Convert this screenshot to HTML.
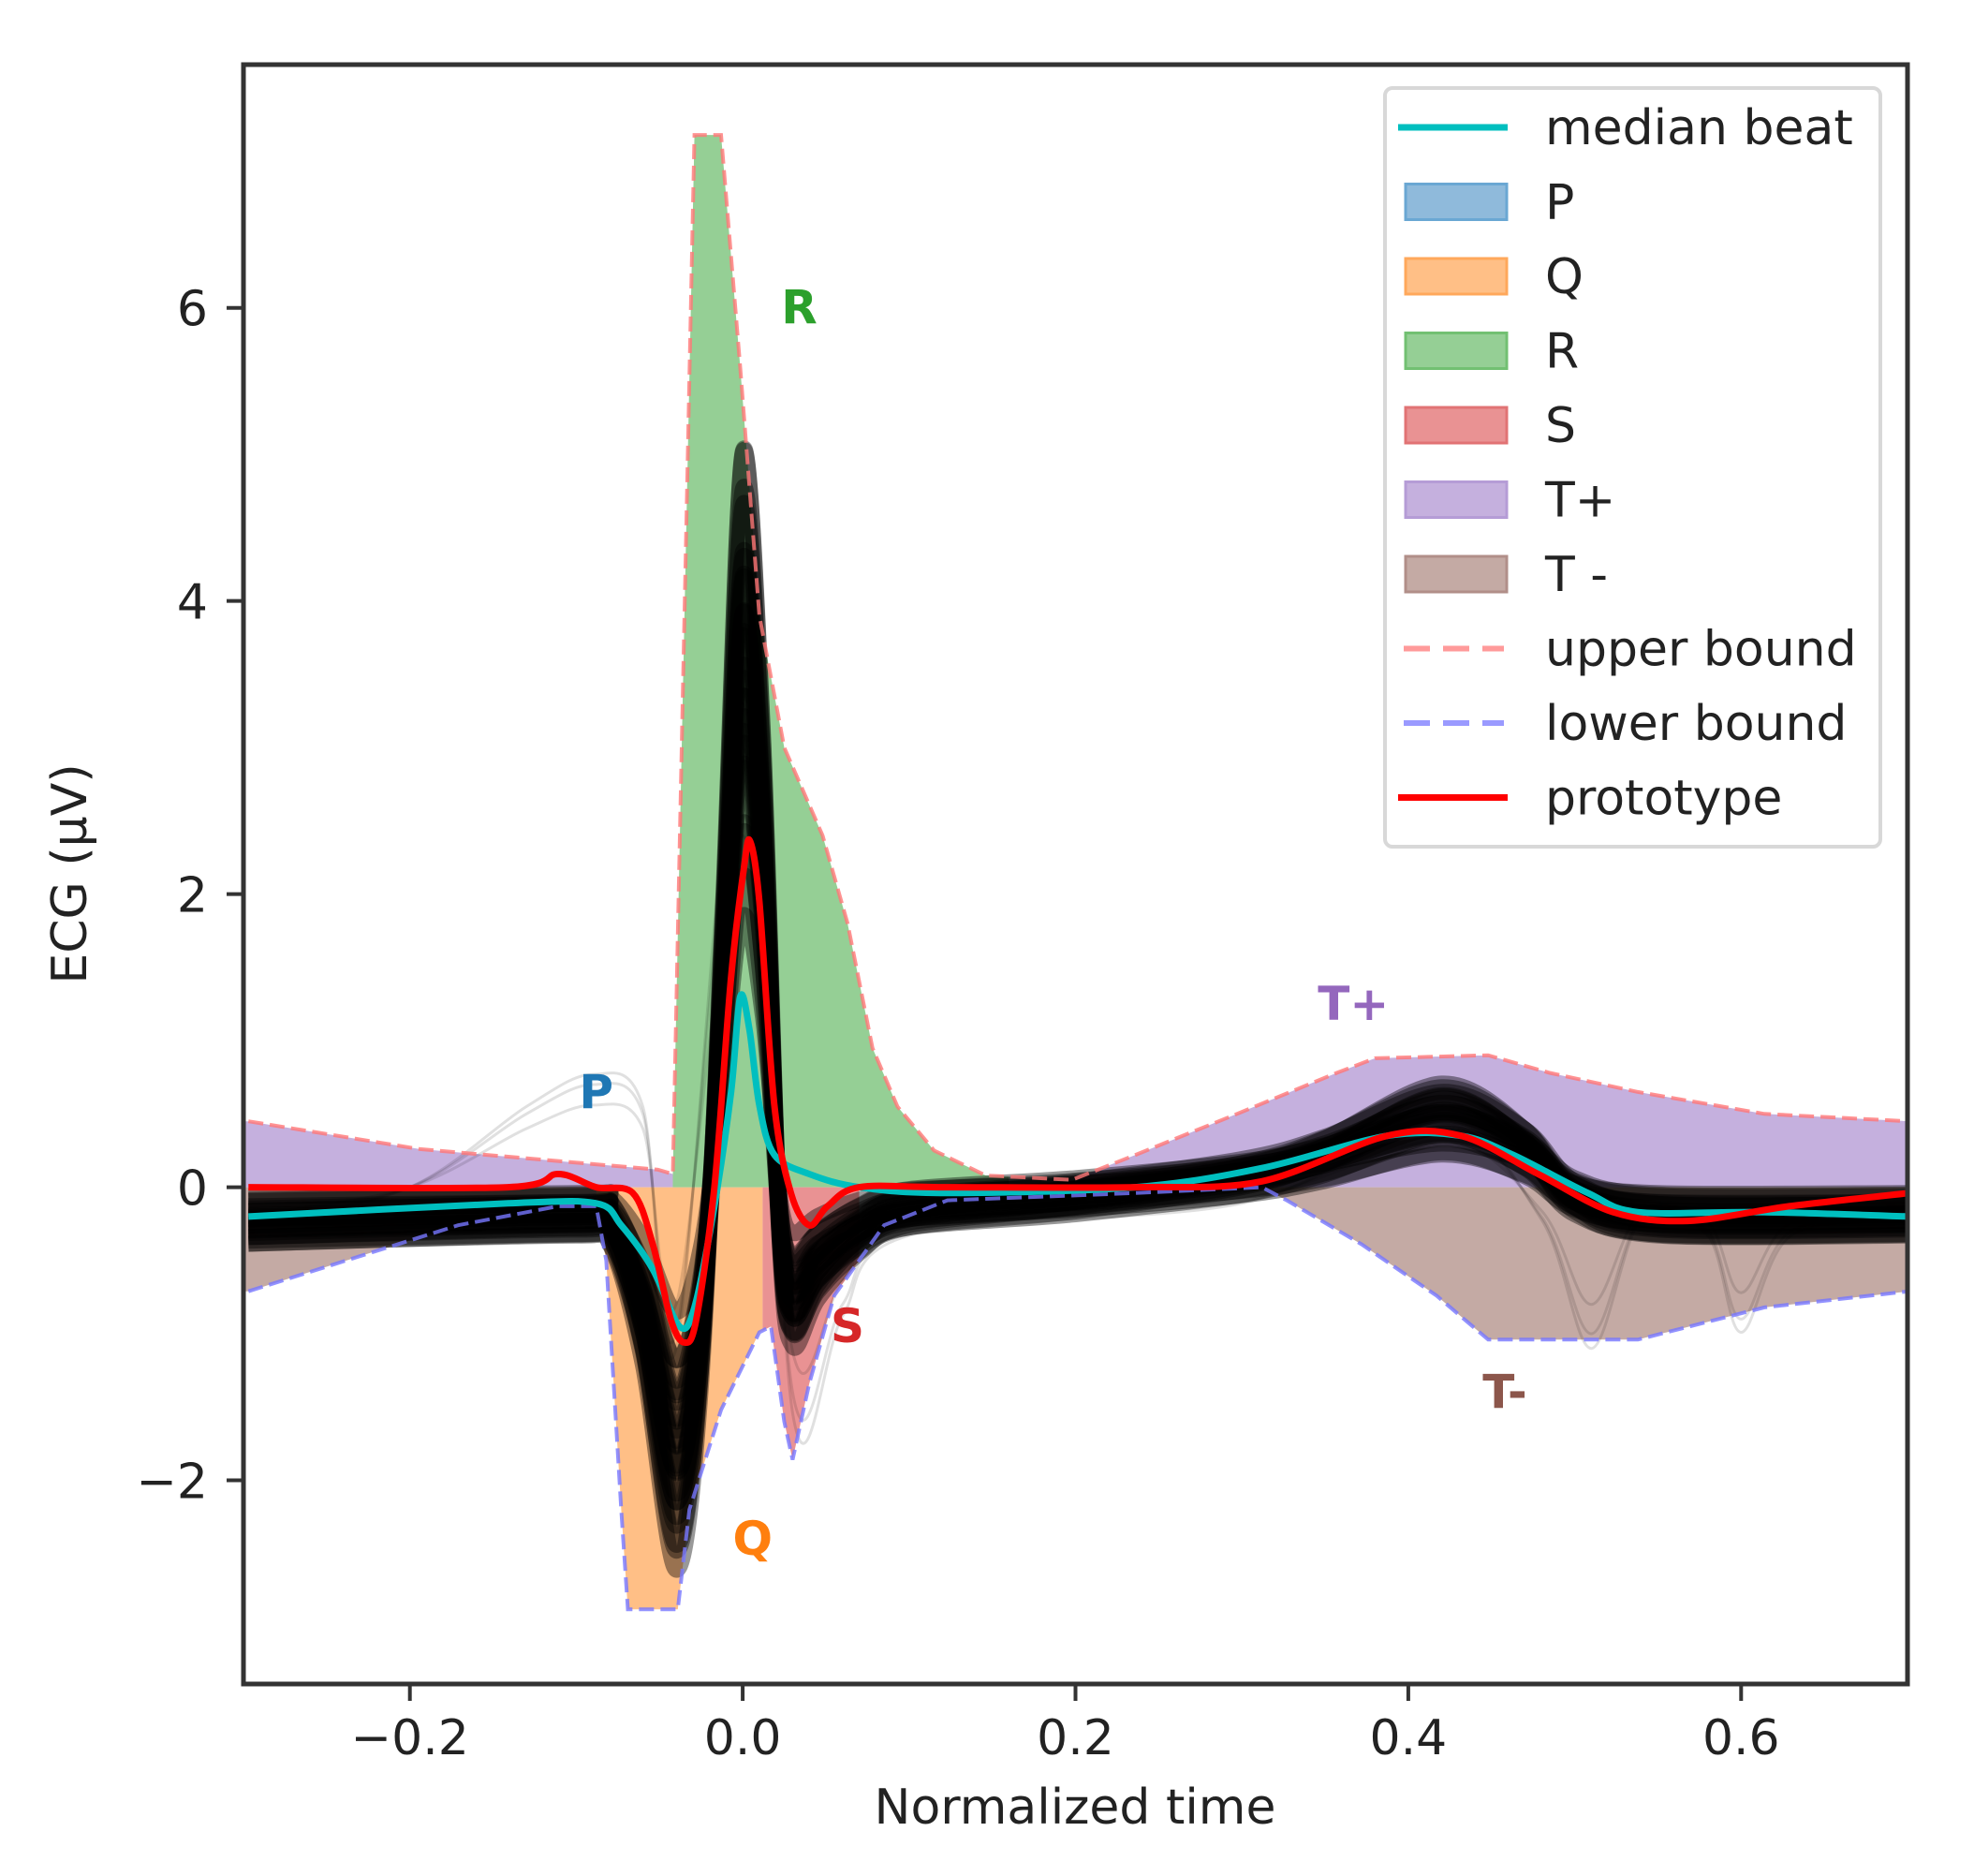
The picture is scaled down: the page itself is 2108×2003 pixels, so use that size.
<!DOCTYPE html>
<html><head><meta charset="utf-8"><style>
html,body{margin:0;padding:0;background:#fff}
svg{display:block}
text{font-family:"DejaVu Sans","Liberation Sans",sans-serif;fill:#222}
</style></head><body>
<svg id="chart" width="2108" height="2003" viewBox="0 0 2108 2003">
<defs><clipPath id="plotclip"><rect x="260" y="69" width="1777" height="1729"/></clipPath></defs>
<g id="plot" clip-path="url(#plotclip)"></g>
<g id="axes"></g>
</svg>
<script>
// ---- data ----
const xTicks = [-0.2, 0.0, 0.2, 0.4, 0.6];
const xTickLabels = ["\u22120.2", "0.0", "0.2", "0.4", "0.6"];
const yTicks = [-2, 0, 2, 4, 6];
const yTickLabels = ["\u22122", "0", "2", "4", "6"];
const upperT = [-0.297,-0.194,-0.051,-0.042,-0.029,-0.013,-0.0015,0.010,0.025,0.048,0.063,0.078,0.093,0.115,0.146,0.198,0.236,0.297,0.357,0.380,0.448,0.485,0.538,0.614,0.701];
const upperV = [0.45,0.26,0.12,0.09,7.18,7.18,5.6,3.9,3.0,2.4,1.8,0.95,0.55,0.25,0.08,0.05,0.22,0.5,0.78,0.88,0.9,0.78,0.65,0.5,0.45];
const lowerT = [-0.297,-0.171,-0.111,-0.088,-0.082,-0.073,-0.069,-0.039,-0.032,-0.013,0.010,0.017,0.025,0.030,0.040,0.055,0.085,0.123,0.236,0.312,0.327,0.372,0.417,0.448,0.538,0.614,0.701];
const lowerV = [-0.71,-0.26,-0.13,-0.13,-0.5,-2.2,-2.88,-2.88,-2.2,-1.52,-0.99,-0.95,-1.6,-1.86,-1.34,-0.74,-0.26,-0.09,-0.04,0,-0.09,-0.39,-0.74,-1.04,-1.04,-0.82,-0.71];
const medianT = [-0.297,-0.141,-0.088,-0.073,-0.054,-0.038,-0.029,-0.017,-0.007,-0.0015,0.004,0.010,0.019,0.040,0.070,0.123,0.236,0.312,0.387,0.432,0.463,0.508,0.538,0.614,0.701];
const medianV = [-0.2,-0.11,-0.11,-0.26,-0.56,-0.95,-0.82,-0.13,0.65,1.3,1.08,0.56,0.22,0.09,0,-0.04,0,0.13,0.35,0.35,0.22,-0.04,-0.17,-0.17,-0.2];
const protoT = [-0.297,-0.141,-0.111,-0.088,-0.066,-0.054,-0.043,-0.035,-0.028,-0.017,-0.007,0.001,0.0045,0.010,0.019,0.029,0.040,0.051,0.070,0.123,0.236,0.312,0.387,0.432,0.478,0.523,0.568,0.629,0.701];
const protoV = [0,0,0.09,0,-0.04,-0.39,-0.91,-1.06,-0.91,0,1.43,2.2,2.36,1.95,0.56,-0.04,-0.26,-0.13,0,0,0,0.04,0.35,0.35,0.09,-0.17,-0.23,-0.13,-0.04];
const beatT = [-0.297,-0.1,-0.08,-0.06,-0.04,-0.025,-0.012,0.0,0.012,0.022,0.03,0.045,0.07,0.1,0.2,0.3,0.35,0.42,0.47,0.5,0.55,0.7];
const beatV = [-0.25,-0.2,-0.25,-0.9,-2.0,-1.0,1.5,4.0,2.5,-0.2,-0.8,-0.55,-0.3,-0.15,-0.05,0.1,0.25,0.55,0.3,-0.05,-0.2,-0.2];
const beatScales = [0.45,0.55,0.6,0.65,0.7,0.72,0.75,0.78,0.8,0.82,0.85,0.88,0.9,0.92,0.95,0.97,1.0,1.02,1.05,1.08,1.1,1.15,1.2,1.25,1.27];
const beatOffsets = [0.05,-0.08,0.02,-0.12,0.08,-0.03,0.1,-0.1,0.0,0.06,-0.06,0.03,-0.14,0.07,-0.02,0.04,-0.09,0.09,-0.05,0.01,-0.11,0.05,-0.04,0.02,-0.07];
const grayT = [-0.297,-0.2,-0.13,-0.09,-0.06,-0.04,0.0,0.03,0.06,0.1,0.3,0.42,0.48,0.51,0.54,0.58,0.6,0.63,0.701];
const grayV = [-0.25,0.0,0.5,0.7,0.5,-1.0,3.0,-1.4,-0.8,-0.3,-0.1,0.4,-0.2,-1.0,-0.2,-0.3,-0.9,-0.3,-0.2];
const grayScales = [0.8,1.0,1.1];
const regionNames = ["T+ left","T- left","Q","R","S","T+ right","T- right"];
const regionBound = ["upper","lower","lower","upper","lower","upper","lower"];
const regionStart = [-0.3,-0.3,-0.088,-0.042,0.012,0.2,0.315];
const regionEnd = [-0.042,-0.085,0.012,0.16,0.07,0.701,0.701];
const regionColor = ["#c5b0de","#c4aaa4","#ffbf86","#95cf95","#e99293","#c5b0de","#c4aaa4"];
const legendLabels = ["median beat","P","Q","R","S","T+","T -","upper bound","lower bound","prototype"];
const annLabels = ["R","P","Q","S","T+","T-"];
const annT = [0.034,-0.088,0.006,0.063,0.367,0.458];
const annV = [6.0,0.65,-2.4,-0.95,1.25,-1.4];
const annColor = ["#2ca02c","#1f77b4","#ff7f0e","#d62728","#9467bd","#8c564b"];

// ---- scales ----
const X0=260,X1=2037,Y0=69,Y1=1798,TMIN=-0.3,TMAX=0.7,VMIN=-3.39,VMAX=7.66;
const sx=t=>X0+(t-TMIN)/(TMAX-TMIN)*(X1-X0);
const sy=v=>Y1-(v-VMIN)/(VMAX-VMIN)*(Y1-Y0);
const NS="http://www.w3.org/2000/svg";
const plot=document.getElementById('plot'), axes=document.getElementById('axes');
function mk(tag,attrs,parent){const e=document.createElementNS(NS,tag);for(const k in attrs)e.setAttribute(k,attrs[k]);parent.appendChild(e);return e;}
function interp(T,V,t){if(t<=T[0])return V[0];for(let i=1;i<T.length;i++){if(t<=T[i]){const f=(t-T[i-1])/(T[i]-T[i-1]);return V[i-1]+f*(V[i]-V[i-1]);}}return V[V.length-1];}
function linePath(T,V){return T.map((t,i)=>(i?'L':'M')+sx(t).toFixed(1)+' '+sy(V[i]).toFixed(1)).join(' ');}
function smoothPath(T,V){const P=T.map((t,i)=>[sx(t),sy(V[i])]);let d='M'+P[0][0].toFixed(1)+' '+P[0][1].toFixed(1);
 for(let i=0;i<P.length-1;i++){const p0=P[Math.max(0,i-1)],p1=P[i],p2=P[i+1],p3=P[Math.min(P.length-1,i+2)];const k=0.16;
 d+=' C'+(p1[0]+(p2[0]-p0[0])*k).toFixed(1)+' '+(p1[1]+(p2[1]-p0[1])*k).toFixed(1)+' '+(p2[0]-(p3[0]-p1[0])*k).toFixed(1)+' '+(p2[1]-(p3[1]-p1[1])*k).toFixed(1)+' '+p2[0].toFixed(1)+' '+p2[1].toFixed(1);}return d;}

// ---- region fills ----
regionNames.forEach((nm,i)=>{
 const T=regionBound[i]==='upper'?upperT:lowerT, V=regionBound[i]==='upper'?upperV:lowerV;
 const pts=[regionStart[i]];T.forEach(t=>{if(t>regionStart[i]&&t<regionEnd[i])pts.push(t);});pts.push(regionEnd[i]);
 let d='M'+sx(pts[0])+' '+sy(0);pts.forEach(t=>{d+=' L'+sx(t).toFixed(1)+' '+sy(interp(T,V,t)).toFixed(1);});d+=' L'+sx(pts[pts.length-1])+' '+sy(0)+' Z';
 const p=mk('path',{d:d,fill:regionColor[i],stroke:'none'},plot);
 
 
});
// ---- gray beats ----
grayScales.forEach((s,i)=>{
 const p=mk('path',{d:smoothPath(grayT,grayV.map(v=>v*s)),fill:'none',stroke:'#000','stroke-opacity':0.12,'stroke-width':3},plot);
 
 
});
// ---- black beats ----
beatScales.forEach((s,i)=>{
 const p=mk('path',{d:smoothPath(beatT,beatV.map(v=>v*s+beatOffsets[i])),fill:'none',stroke:'#000','stroke-opacity':0.4,'stroke-width':17},plot);
 
 
});
// ---- bounds ----
const ub=mk('path',{d:linePath(upperT,upperV),fill:'none',stroke:'#f77','stroke-width':4,'stroke-dasharray':'16 7','stroke-opacity':0.8},plot);


const lb=mk('path',{d:linePath(lowerT,lowerV),fill:'none',stroke:'#77f','stroke-width':4,'stroke-dasharray':'16 7','stroke-opacity':0.8},plot);


// ---- median & prototype ----
const ml=mk('path',{d:smoothPath(medianT,medianV),fill:'none',stroke:'#00bfbf','stroke-width':7},plot);


const pl=mk('path',{d:smoothPath(protoT,protoV),fill:'none',stroke:'#ff0000','stroke-width':7},plot);


// ---- annotations ----
annLabels.forEach((l,i)=>{
 const t=mk('text',{x:sx(annT[i]),y:sy(annV[i]),'font-size':50,'font-weight':'bold','text-anchor':'middle','dominant-baseline':'central',style:'fill:'+annColor[i]},plot);
 t.textContent=l;
 
 
});
// ---- axes frame ----
const fr=mk('rect',{x:X0,y:Y0,width:X1-X0,height:Y1-Y0,fill:'none',stroke:'#333','stroke-width':5},axes);


xTicks.forEach((v,i)=>{
 const x=sx(v);
 const tk=mk('line',{x1:x,x2:x,y1:Y1,y2:Y1+18,stroke:'#333','stroke-width':4},axes);
 
 
 const t=mk('text',{x:x,y:1873,'font-size':52,'text-anchor':'middle'},axes);t.textContent=xTickLabels[i];
 
 
});
yTicks.forEach((v,i)=>{
 const y=sy(v);
 const tk=mk('line',{x1:X0-18,x2:X0,y1:y,y2:y,stroke:'#333','stroke-width':4},axes);
 
 
 const t=mk('text',{x:222,y:y+19,'font-size':52,'text-anchor':'end'},axes);t.textContent=yTickLabels[i];
 
 
});
const xt=mk('text',{x:1148,y:1947,'font-size':52,'text-anchor':'middle'},axes);xt.textContent='Normalized time';


const yt=mk('text',{x:0,y:0,'font-size':52,'text-anchor':'middle',transform:'translate(92,933) rotate(-90)'},axes);yt.textContent='ECG (\u03bcV)';


// ---- legend ----
const lg=mk('g',{},axes);


mk('rect',{x:1479,y:94,width:529,height:810,rx:8,fill:'#fff','fill-opacity':0.85,stroke:'#d8d8d8','stroke-width':4},lg);
legendLabels.forEach((l,i)=>{
 const y=136+i*79.5;
 const e=mk('g',{},lg);
 
 
 if(i===0) mk('line',{x1:1493,x2:1610,y1:y,y2:y,stroke:'#00bfbf','stroke-width':7},e);
 else if(i===9) mk('line',{x1:1493,x2:1610,y1:y,y2:y,stroke:'#ff0000','stroke-width':7},e);
 else if(i===7) mk('line',{x1:1499,x2:1606,y1:y,y2:y,stroke:'#ff9a9a','stroke-width':6,'stroke-dasharray':'28 14'},e);
 else if(i===8) mk('line',{x1:1499,x2:1606,y1:y,y2:y,stroke:'#9a9aff','stroke-width':6,'stroke-dasharray':'28 14'},e);
 else { const fills=['#8fbadb','#ffbf86','#95cf95','#e99293','#c5b0de','#c4aaa4'],strokes=['#6aa7d3','#ffa85b','#72c072','#e17374','#b59cd6','#b18f89'];
  mk('rect',{x:1501,y:y-19,width:108,height:38,fill:fills[i-1],stroke:strokes[i-1],'stroke-width':3},e); }
 const t=mk('text',{x:1650,y:y+18,'font-size':52},e);t.textContent=l;
});
</script>
</body></html>
